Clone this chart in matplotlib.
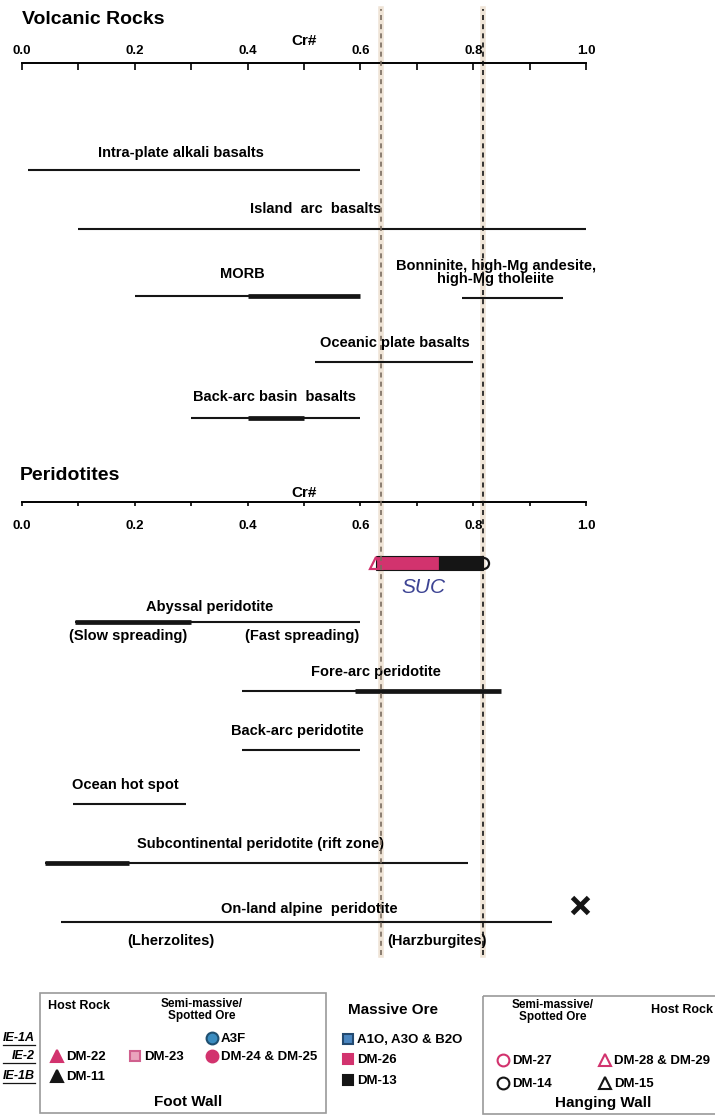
import numpy as np
import matplotlib.pyplot as plt
from matplotlib.patches import Rectangle

plt.rcParams['font.family'] = ['Liberation Sans', 'DejaVu Sans']
plt.rcParams['font.weight'] = 'bold'

### Cr# ranges of spinel in volcanic rocks (thin = full range, thick = common range)
vol_names = ['Intra-plate alkali basalts', 'Island  arc  basalts', 'MORB',
             'Bonninite, high-Mg andesite,\nhigh-Mg tholeiite',
             'Oceanic plate basalts', 'Back-arc basin  basalts']
vol_lo = [0.01, 0.10, 0.20, 0.78, 0.52, 0.30]
vol_hi = [0.60, 1.00, 0.60, 0.96, 0.80, 0.60]
vol_thick_lo = [None, None, 0.40, None, None, 0.40]
vol_thick_hi = [None, None, 0.60, None, None, 0.50]

### Cr# ranges of spinel in peridotites
per_names = ['Abyssal peridotite', 'Fore-arc peridotite', 'Back-arc peridotite',
             'Ocean hot spot', 'Subcontinental peridotite (rift zone)',
             'On-land alpine  peridotite']
per_lo = [0.094, 0.39, 0.39, 0.09, 0.04, 0.07]
per_hi = [0.60, 0.85, 0.60, 0.29, 0.79, 0.94]
per_thick_lo = [0.094, 0.59, None, None, 0.04, None]
per_thick_hi = [0.30, 0.85, None, None, 0.19, None]
per_sub = {0: [('(Slow spreading)', 0.188), ('(Fast spreading)', 0.496)],
           5: [('(Lherzolites)', 0.264), ('(Harzburgites)', 0.736)]}

### SUC chromitites
suc_pink = [0.627, 0.74]
suc_black = [0.74, 0.817]
suc_bounds = [0.637, 0.817]
alpine_x = 0.99

ticks = [0.0, 0.2, 0.4, 0.6, 0.8, 1.0]
tick_labels = ['0.0', '0.2', '0.4', '0.6', '0.8', '1.0']

### layout (rows and label offsets)
vol_rows = [0, 0.96, 2.04, 2.06, 3.1, 4.0]
vol_lab_x = [0.282, 0.521, 0.39, 0.84, 0.661, 0.447]
vol_lab_dy = [12, 15, 16, 18, 14, 15]
per_rows = [0.983, 2.133, 3.117, 4.017, 5.0, 5.983]
per_lab_x = [0.332, 0.628, 0.489, 0.184, 0.422, 0.509]
per_lab_dy = [11, 14, 14, 14, 14, 9]
per_sub_dy = {0: -10, 5: -14}

PINK = '#d2336e'
INK = '#151515'
FW, FH = 715, 1115
L, W = 22 / FW, 564 / FW


def fy(px):
    return 1 - px / FH


fig = plt.figure(figsize=(7.15, 11.15), dpi=100)

### faint band behind the dashed SUC limits (drawn first so it stays behind)
axb = fig.add_axes([L, 0, W, 1])
axb.set_xlim(0, 1)
axb.set_ylim(0, 1)
axb.axis('off')
for x in suc_bounds:
    axb.axvline(x, ymin=fy(955), ymax=fy(9), color='#efe4d6', lw=4)


def draw_ranges(ax, rows, lo, hi, tlo, thi):
    ax.hlines(rows, lo, hi, color=INK, lw=1.5, clip_on=False)
    for r, a, b in zip(rows, tlo, thi):
        if a is not None:
            ax.hlines(r, a, b, color=INK, lw=3.4, clip_on=False)


### Volcanic rocks
ax_v = fig.add_axes([L, fy(450), W, (450 - 63) / FH])
ax_v.set_xlim(0, 1)
ax_v.set_ylim(4.514, -1.719)
for s in ['left', 'right', 'bottom']:
    ax_v.spines[s].set_visible(False)
ax_v.spines['top'].set_linewidth(1.4)
ax_v.xaxis.set_ticks_position('top')
ax_v.xaxis.set_label_position('top')
ax_v.set_xticks(ticks, tick_labels)
ax_v.set_xticks(np.arange(0.1, 1.0, 0.2), minor=True)
ax_v.tick_params(axis='x', which='both', direction='in', length=5, width=1.2, pad=4, labelsize=9.5)
ax_v.set_yticks([])
ax_v.set_xlabel('Cr#', fontsize=11, fontweight='bold', labelpad=0)
ax_v.patch.set_alpha(0)
draw_ranges(ax_v, vol_rows, vol_lo, vol_hi, vol_thick_lo, vol_thick_hi)
for name, r, xc, dy in zip(vol_names, vol_rows, vol_lab_x, vol_lab_dy):
    ax_v.annotate(name, (xc, r), xytext=(0, dy), textcoords='offset points',
                  ha='center', va='center', fontsize=10.5, linespacing=0.95)
fig.text(22 / FW, fy(20), 'Volcanic Rocks', fontsize=14, ha='left', va='center')

### Peridotites scale
ax_ps = fig.add_axes([L, fy(502), W, 0.0005])
ax_ps.set_xlim(0, 1)
for s in ['left', 'right', 'top']:
    ax_ps.spines[s].set_visible(False)
ax_ps.spines['bottom'].set_linewidth(1.4)
ax_ps.set_xticks(ticks, tick_labels)
ax_ps.set_xticks(np.arange(0.1, 1.0, 0.2), minor=True)
ax_ps.tick_params(axis='x', which='both', direction='out', length=3, width=1.2, pad=10, labelsize=9.5)
ax_ps.set_yticks([])
ax_ps.patch.set_alpha(0)
ax_ps.set_title('Cr#', fontsize=11, pad=3, fontweight='bold')
fig.text(20 / FW, fy(475), 'Peridotites', fontsize=14, ha='left', va='center')

ax_p = fig.add_axes([L, fy(965), W, (965 - 505) / FH])
ax_p.set_xlim(0, 1)
ax_p.set_ylim(6.7, -0.967)
ax_p.axis('off')
draw_ranges(ax_p, per_rows, per_lo, per_hi, per_thick_lo, per_thick_hi)
for i, (name, r, xc, dy) in enumerate(zip(per_names, per_rows, per_lab_x, per_lab_dy)):
    ax_p.annotate(name, (xc, r), xytext=(0, dy), textcoords='offset points',
                  ha='center', va='center', fontsize=10.5)
    for sub, sx in per_sub.get(i, []):
        ax_p.annotate(sub, (sx, r), xytext=(0, per_sub_dy[i]), textcoords='offset points',
                      ha='center', va='center', fontsize=10.5)
ax_p.plot(alpine_x, per_rows[5] - 0.28, marker='x', color=INK, ms=11, mew=3.5, clip_on=False)

# SUC bar
ax_p.barh(0, suc_pink[1] - suc_pink[0], left=suc_pink[0], height=0.22,
          color=PINK, edgecolor=INK, lw=0.8, zorder=3)
ax_p.barh(0, suc_black[1] - suc_black[0], left=suc_black[0], height=0.22,
          color=INK, edgecolor=INK, lw=0.8, zorder=3)
ax_p.plot(suc_pink[0], 0, marker='^', mfc='none', mec=PINK, mew=1.6, ms=8, zorder=4, clip_on=False)
ax_p.plot(suc_black[1], 0, marker='o', mfc='none', mec=INK, mew=1.6, ms=8, zorder=4, clip_on=False)
ax_p.text(np.mean(suc_bounds) - 0.015, 0.4, 'SUC', fontsize=15, style='italic',
          fontweight='normal', color='#3d4494', ha='center', va='center')

### dashed limits of the SUC chromitites
axd = fig.add_axes([L, 0, W, 1])
axd.set_xlim(0, 1)
axd.set_ylim(0, 1)
axd.axis('off')
for x, c in zip(suc_bounds, ['#7a6c60', INK]):
    axd.axvline(x, ymin=fy(955), ymax=fy(9), color=c, lw=1.2, ls=(0, (3, 2.5)))

### legend
axl = fig.add_axes([0, 0, 1, 165 / FH])
axl.set_xlim(0, FW)
axl.set_ylim(FH, 950)
axl.axis('off')

axl.add_patch(Rectangle((40, 993), 286, 120, fill=False, ec='#9a9a9a', lw=1.2))
axl.add_patch(Rectangle((483, 996), 240, 118, fill=False, ec='#9a9a9a', lw=1.2))

foot_items = [('A3F', 'o', '#3a8cc0', '#1f4f70', 212, 1038),
              ('DM-22', '^', PINK, PINK, 57, 1056),
              ('DM-23', 's', '#eaa3bd', '#d0608e', 135, 1056),
              ('DM-24 & DM-25', 'o', PINK, PINK, 212, 1056),
              ('DM-11', '^', INK, INK, 57, 1076)]
massive_items = [('A1O, A3O & B2O', 's', '#4a86c0', '#234a70', 348, 1039),
                 ('DM-26', 's', PINK, PINK, 348, 1059),
                 ('DM-13', 's', INK, INK, 348, 1080)]
hang_items = [('DM-27', 'o', 'none', PINK, 503, 1060),
              ('DM-28 & DM-29', '^', 'none', PINK, 605, 1060),
              ('DM-14', 'o', 'none', INK, 503, 1083),
              ('DM-15', '^', 'none', INK, 605, 1083)]
for lab, m, fc, ec, x, y in foot_items + massive_items + hang_items:
    axl.plot(x, y, marker=m, mfc=fc, mec=ec, mew=1.5, ms=8.5 if m != 's' else 7.5, clip_on=False)
    axl.text(x + 9, y + 1, lab, fontsize=9.5, ha='left', va='center')

axl.text(79, 1006, 'Host Rock', fontsize=9, ha='center', va='center')
axl.text(202, 1010, 'Semi-massive/\nSpotted Ore', fontsize=8.5, ha='center', va='center', linespacing=0.9)
axl.text(188, 1102, 'Foot Wall', fontsize=11, ha='center', va='center')
axl.text(348, 1010, 'Massive Ore', fontsize=11, ha='left', va='center')
axl.text(553, 1011, 'Semi-massive/\nSpotted Ore', fontsize=8.5, ha='center', va='center', linespacing=0.9)
axl.text(651, 1010, 'Host Rock', fontsize=9, ha='left', va='center')
axl.text(603, 1103, 'Hanging Wall', fontsize=11, ha='center', va='center')

for lab, y in zip(['IE-1A', 'IE-2', 'IE-1B'], [1038, 1056, 1076]):
    axl.text(35, y, lab, fontsize=9, style='italic', ha='right', va='center')
    axl.plot([3, 35], [y + 7, y + 7], color=INK, lw=0.9)

plt.savefig('out.png', dpi=100)
